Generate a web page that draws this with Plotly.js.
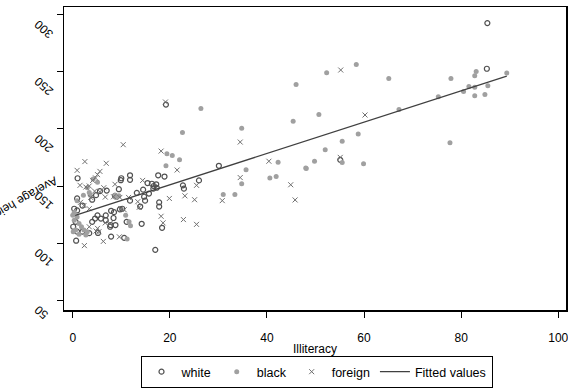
<!DOCTYPE html>
<html><head><meta charset="utf-8">
<script src="https://cdn.plot.ly/plotly-3.0.1.min.js"></script>
<style>html,body{margin:0;padding:0;background:#fff}#chart{width:568px;height:390px}</style>
</head><body><div id="chart"></div>
<script>
// white
const whiteX = [19.2,30.1,26.0,22.7,22.9,17.6,18.9,11.8,11.8,10.0,1.0,17.2,16.7,16.3,15.4,17.3,16.6,14.5,15.7,14.7,14.9,13.9,17.8,17.8,13.2,9.5,7.0,5.6,4.8,4.0,11.8,8.7,9.7,7.9,8.4,7.7,8.8,11.1,14.2,18.4,5.8,6.8,6.8,4.6,4.0,5.1,8.5,10.2,7.9,10.6,0.7,17.0,85.4,85.3,55.1,2.0,0.3,0.9,0.9,0.9,2.0,3.4,0.6,0.1,9.9,7.8,5.2];
const whiteY = [221.3,167.7,154.9,150.6,147.7,159.4,158.3,159.4,155.4,156.8,156.8,151.5,150.0,152.0,152.6,148.5,147.7,146.8,143.4,140.6,137.2,132.0,135.7,132.0,144.0,147.2,146.0,145.5,142.0,138.0,137.2,141.4,129.5,128.3,122.0,114.3,115.8,118.6,116.9,113.4,121.5,124.3,120.0,121.5,118.6,124.3,127.1,130.1,105.7,104.6,102.1,94.1,292.7,252.7,172.9,132.9,130.1,128.6,139.1,110.0,110.0,108.7,118.6,114.3,155.1,115.8,108.9];
// black
const blackX = [46.0,26.4,34.8,22.6,45.4,19.4,20.5,22.0,19.2,42.3,48.0,35.7,40.6,41.9,34.8,31.0,33.4,11.2,8.7,52.3,58.4,65.1,77.9,83.1,82.8,89.4,85.5,81.6,82.8,80.5,82.8,84.9,75.3,67.2,50.7,58.8,55.5,52.0,77.7,49.8,55.5,59.9,48.1,5.1,3.0,3.4,2.2,0.9,8.9,9.5,10.9,0.3,0.0,0.3,0.9,1.3,1.8,0.6,2.3,3.0,2.7,1.3,0.1,11.6,11.9,4.2,3.6];
const blackY = [239.0,217.9,200.5,196.8,206.8,178.2,176.8,173.1,167.7,170.8,165.7,164.3,157.1,158.3,152.0,142.6,142.6,103.5,142.0,249.3,256.4,244.2,244.2,250.4,246.5,249.0,237.9,237.1,236.5,232.8,229.0,230.2,228.2,217.0,212.7,195.6,189.1,181.7,187.9,171.7,170.5,169.4,165.4,153.4,148.5,144.3,142.0,137.2,140.0,141.4,124.3,127.1,124.3,120.0,122.9,117.2,114.3,111.5,111.5,110.0,107.2,107.8,110.0,118.6,115.2,156.2,142.0];
// foreign
const foreignX = [19.1,10.4,18.2,34.5,40.4,34.5,44.9,21.5,25.5,14.4,8.7,19.9,23.1,25.1,30.8,45.8,6.7,8.4,11.5,13.4,13.7,10.6,18.2,18.6,22.8,25.5,6.3,2.4,9.6,6.7,7.7,4.8,5.4,55.2,60.2,55.1,2.5,6.9,0.9,5.6,5.1,4.7,4.1,1.5,2.7,3.4,6.4,4.5,5.6,9.7,3.7,2.3,1.6,3.4,9.9,5.1,3.4];
const foreignY = [223.6,186.2,180.6,188.5,171.7,157.4,151.1,164.0,150.6,154.9,151.5,139.1,141.4,138.0,137.2,137.8,140.3,140.6,140.0,136.3,131.4,129.2,123.5,117.7,120.6,116.4,101.5,97.8,105.5,117.7,117.2,110.6,110.0,251.6,212.2,175.1,171.4,169.9,163.7,162.8,160.0,157.1,154.9,150.6,149.1,150.0,148.5,145.5,144.9,140.0,140.0,132.9,135.7,130.1,130.1,112.9,114.3];
// fitted line
const fitX = [0.5, 89.4];
const fitY = [124.3, 246.3];
const xTicks = [0,20,40,60,80,100];
const yTicks = [50,100,150,200,250,300];

const traces = [
  {x: whiteX, y: whiteY, type:'scatter', mode:'markers', name:'white',
   marker:{symbol:'circle-open', size:5, color:'#505050', line:{width:1.2, color:'#505050'}}},
  {x: blackX, y: blackY, type:'scatter', mode:'markers', name:'black',
   marker:{symbol:'circle', size:5, color:'#a0a0a0'}},
  {x: foreignX, y: foreignY, type:'scatter', mode:'markers', name:'foreign',
   marker:{symbol:'x-thin-open', size:5, color:'#707070', line:{width:1, color:'#707070'}}},
  {x: fitX, y: fitY, type:'scatter', mode:'lines', name:'Fitted values',
   line:{color:'#404040', width:1.2}}
];

const layout = {
  width:568, height:390,
  margin:{l:64, r:2, t:7, b:73},
  paper_bgcolor:'#fff', plot_bgcolor:'#fff',
  font:{family:'Liberation Sans, Arial, sans-serif', size:11, color:'#000'},
  showlegend:true,
  xaxis:{range:[-1.8,101.6], tickvals:xTicks, ticktext:xTicks.map(String),
    showgrid:false, zeroline:false, showline:true, linecolor:'#000', linewidth:1.5, mirror:true,
    ticks:'outside', ticklen:6, tickcolor:'#000', tickfont:{size:12},
    ticklabelstandoff:10, ticklabeloverflow:'allow',
    title:{text:'Illiteracy', font:{size:12}, standoff:0}},
  yaxis:{range:[41.4,306.8], tickvals:yTicks, ticktext:yTicks.map(String),
    showgrid:false, zeroline:false, showline:true, linecolor:'#000', linewidth:1.5, mirror:true,
    ticks:'outside', ticklen:6, tickcolor:'#000', tickfont:{size:12}, tickangle:-138,
    ticklabelstandoff:19, ticklabelshift:11, ticklabeloverflow:'allow'},
  legend:{orientation:'h', x:0.503, xanchor:'center', y:-0.152, yanchor:'top',
    bordercolor:'#000', borderwidth:1, font:{size:12.5}, itemwidth:30, traceorder:'normal'},
  annotations:[{text:'Average height', xref:'paper', yref:'paper', x:-0.085, y:0.365,
    xanchor:'center', yanchor:'middle', showarrow:false, textangle:150, font:{size:12}}]
};
Plotly.newPlot('chart', traces, layout, {staticPlot:true});
</script></body></html>
